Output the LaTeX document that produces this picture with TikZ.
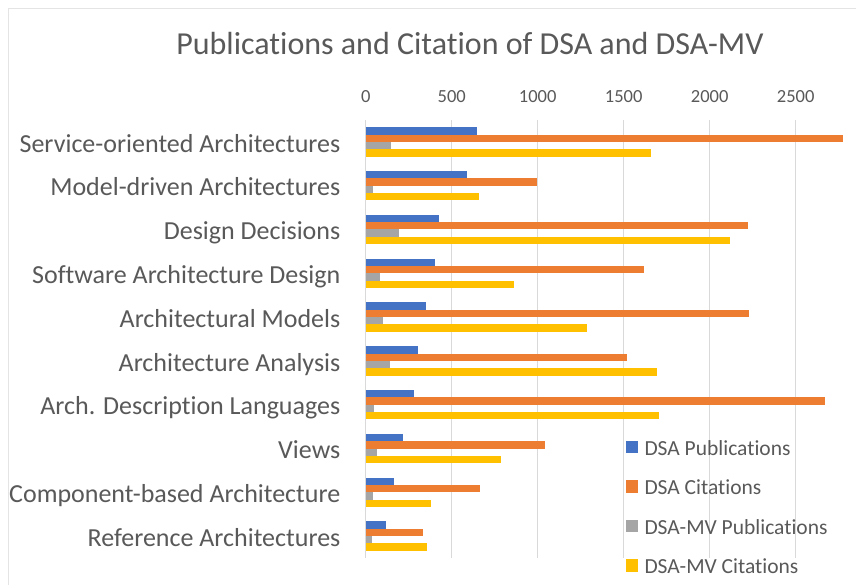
\documentclass[tikz,border=0pt]{standalone}
\usepackage{fontspec}
\setmainfont{Carlito}[Ligatures=NoCommon]
\definecolor{txt}{HTML}{595959}
\definecolor{gridc}{HTML}{D9D9D9}
\definecolor{cblue}{HTML}{4472C4}
\definecolor{corange}{HTML}{ED7D31}
\definecolor{cgray}{HTML}{A5A5A5}
\definecolor{cyellow}{HTML}{FFC000}
\tikzset{
  gridline/.style={draw=gridc, line width=0.8pt},
  frameline/.style={draw=gridc!70, line width=0.8pt},
  titlelab/.style={text=txt, font=\fontsize{32}{37}\selectfont, inner sep=0pt},
  axlab/.style={text=txt, font=\fontsize{18.5}{22}\selectfont, inner sep=0pt},
  catlab/.style={text=txt, font=\fontsize{26}{30}\selectfont, inner sep=0pt},
  leglab/.style={text=txt, font=\fontsize{21.5}{25}\selectfont, inner sep=0pt},
}
\begin{document}
\begin{tikzpicture}[x=1pt,y=-1pt]
\useasboundingbox (0,0) rectangle (856,585);
\fill[white] (0,0) rectangle (856,585);
\draw[frameline] (8,585) -- (8,8) -- (856,8);
\node[titlelab, anchor=base] (title) at (470,54.5) {Publications and Citation of DSA and DSA-MV};
\foreach \k/\v in {0/0,1/500,2/1000,3/1500,4/2000,5/2500}{
  \draw[gridline] (365.7+86*\k,120) -- (365.7+86*\k,558);
  \node[axlab, anchor=base] (ax\k) at (365.7+86*\k,102.7) {\v};
}
\foreach \lab/\a/\b/\c/\d [count=\i from 0] in {
  Service-oriented Architectures/645/2777/149/1657,
  Model-driven Architectures/587/994/41/661,
  Design Decisions/426/2225/194/2116,
  Software Architecture Design/403/1618/85/864,
  Architectural Models/351/2227/101/1285,
  Architecture Analysis/304/1519/140/1692,
  Arch. Description Languages/283/2672/50/1703,
  Views/217/1041/64/785,
  Component-based Architecture/163/663/41/382,
  Reference Architectures/116/335/37/355}{
  \pgfmathsetmacro\ytop{120+43.8*\i+7.2}
  \fill[cblue]   (365.7,\ytop)        rectangle ++(0.172*\a,7.35);
  \fill[corange] (365.7,\ytop+7.35)   rectangle ++(0.172*\b,7.35);
  \fill[cgray]   (365.7,\ytop+14.7)   rectangle ++(0.172*\c,7.35);
  \fill[cyellow] (365.7,\ytop+22.05)  rectangle ++(0.172*\d,7.35);
  \node[catlab, anchor=base east] (cat\i) at (340.5,120+43.8*\i+21.9+10.2) {\lab};
}
\foreach \col/\lab [count=\j from 0] in {cblue/DSA Publications, corange/DSA Citations, cgray/DSA-MV Publications, cyellow/DSA-MV Citations}{
  \fill[\col] (626.3,440.8+39.5*\j) rectangle ++(12,12.4);
  \node[leglab, anchor=base west] (leg\j) at (644.3,455+39.5*\j) {\lab};
}
\end{tikzpicture}
\end{document}
